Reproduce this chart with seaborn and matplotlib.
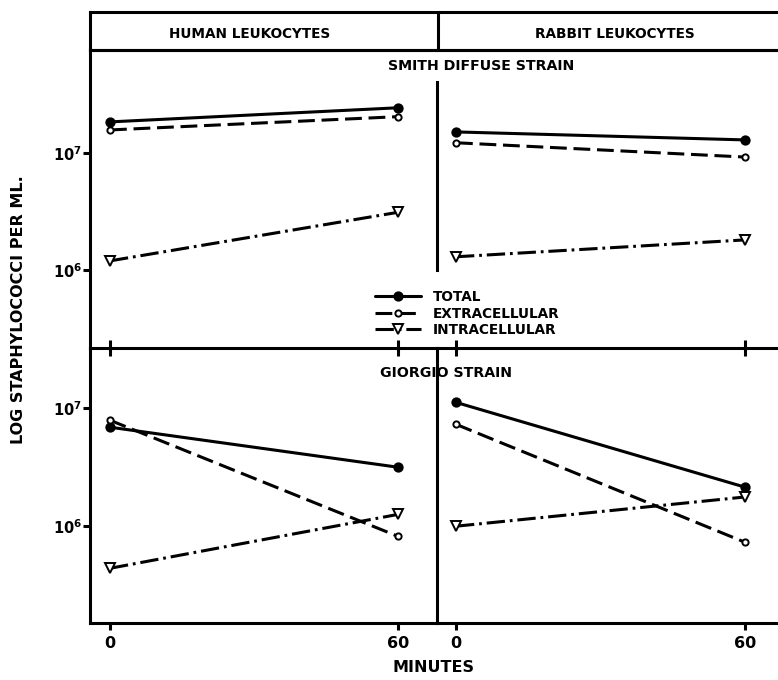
import math
import matplotlib
matplotlib.use("Agg")
import matplotlib.pyplot as plt
from matplotlib.ticker import FixedLocator, FuncFormatter, NullLocator
from matplotlib.lines import Line2D
import seaborn as sns
import pandas as pd

minutes = [0, 60]
fractions = ["TOTAL", "EXTRACELLULAR", "INTRACELLULAR"]
cells = ["HUMAN LEUKOCYTES", "RABBIT LEUKOCYTES"]
strains = ["SMITH DIFFUSE STRAIN", "GIORGIO STRAIN"]

# staphylococci per ml at 0 and 60 min
smith_human = {"TOTAL": [1.84e7, 2.43e7], "EXTRACELLULAR": [1.57e7, 2.04e7], "INTRACELLULAR": [1.19e6, 3.1e6]}
smith_rabbit = {"TOTAL": [1.51e7, 1.29e7], "EXTRACELLULAR": [1.22e7, 9.2e6], "INTRACELLULAR": [1.29e6, 1.8e6]}
giorgio_human = {"TOTAL": [6.9e6, 3.16e6], "EXTRACELLULAR": [7.9e6, 8.2e5], "INTRACELLULAR": [4.4e5, 1.26e6]}
giorgio_rabbit = {"TOTAL": [1.12e7, 2.14e6], "EXTRACELLULAR": [7.3e6, 7.3e5], "INTRACELLULAR": [1.0e6, 1.77e6]}

panels = {
    (strains[0], cells[0]): smith_human,
    (strains[0], cells[1]): smith_rabbit,
    (strains[1], cells[0]): giorgio_human,
    (strains[1], cells[1]): giorgio_rabbit,
}

rows = []
for (strain, cell), series in panels.items():
    for frac, vals in series.items():
        for m, v in zip(minutes, vals):
            rows.append({"strain": strain, "cells": cell, "fraction": frac, "minutes": m, "count": v})
df = pd.DataFrame(rows)

sns.set_style("ticks")
plt.rcParams["font.family"] = ["DejaVu Sans"]
plt.rcParams["font.weight"] = "bold"
for k in ["text.color", "axes.edgecolor", "xtick.color", "ytick.color", "axes.labelcolor"]:
    plt.rcParams[k] = "black"

W, H = 778, 680
fig = plt.figure(figsize=(W / 100, H / 100), dpi=100)


def box(x0, y0, x1, y1):
    return [x0 / W, 1 - y1 / H, (x1 - x0) / W, (y1 - y0) / H]


LW = 2.2
styles = {
    "TOTAL": dict(linestyle="-", marker="o", markersize=6, markerfacecolor="black"),
    "EXTRACELLULAR": dict(linestyle=(0, (5.5, 2.2)), marker="o", markersize=4.5, markerfacecolor="white"),
    "INTRACELLULAR": dict(linestyle=(0, (6, 1.6, 0.9, 1.6)), marker="v", markersize=6.5, markerfacecolor="white"),
}

# header strip
hdr = fig.add_axes(box(90, 12, 778, 50))
hdr.set_xlim(0, 1)
hdr.set_ylim(0, 1)
hdr.set_xticks([])
hdr.set_yticks([])
for s in ["left", "top", "bottom"]:
    hdr.spines[s].set_linewidth(LW)
hdr.spines["right"].set_visible(False)
hdr.axvline((438 - 90) / (778 - 90), color="black", lw=LW)
hdr.text((250 - 90) / 688, 0.42, cells[0], ha="center", va="center", fontsize=9.8, fontweight="bold")
hdr.text((615 - 90) / 688, 0.42, cells[1], ha="center", va="center", fontsize=9.8, fontweight="bold")

positions = {
    (0, 0): box(90, 50, 437, 348),
    (0, 1): box(437, 50, 778, 348),
    (1, 0): box(90, 348, 437, 623),
    (1, 1): box(437, 348, 778, 623),
}
ylims = [(10 ** 5.33, 10 ** 7.88), (10 ** 5.18, 10 ** 7.51)]
xlims = [(-4.17, 68.1), (-3.94, 66.8)]

fmt = FuncFormatter(lambda v, p: r"$\mathbf{10^{%d}}$" % round(math.log10(v)))

for (r, c), pos in positions.items():
    ax = fig.add_axes(pos)
    sub = df[(df["strain"] == strains[r]) & (df["cells"] == cells[c])]
    for frac in fractions:
        sns.lineplot(data=sub[sub["fraction"] == frac], x="minutes", y="count", ax=ax,
                     color="black", linewidth=LW, markeredgecolor="black",
                     markeredgewidth=1.4, label=None, **styles[frac])
    ax.set_yscale("log")
    ax.set_ylim(*ylims[r])
    ax.set_xlim(*xlims[c])
    ax.set_xlabel("")
    ax.set_ylabel("")
    ax.set_facecolor("none")
    for s in ax.spines.values():
        s.set_linewidth(LW)
    ax.spines["right"].set_visible(False)
    if r == 1:
        ax.spines["top"].set_visible(False)
    if c == 1 and r == 0:
        ax.spines["left"].set_bounds(1e6, 10 ** 7.61)
    ax.set_xticks(minutes)
    ax.yaxis.set_minor_locator(NullLocator())
    if c == 0:
        ax.yaxis.set_major_locator(FixedLocator([1e6, 1e7]))
        ax.yaxis.set_major_formatter(fmt)
        ax.tick_params(axis="y", direction="out", length=5, width=LW, labelsize=10.5, pad=1)
    else:
        ax.set_yticks([])
    if r == 0:
        ax.tick_params(axis="x", direction="inout", length=11, width=LW, labelbottom=False)
    else:
        ax.set_xticklabels([str(m) for m in minutes], fontweight="bold")
        ax.tick_params(axis="x", direction="out", length=5, width=LW, labelsize=11.5, pad=4)
    if ax.get_legend():
        ax.get_legend().remove()

fig.text(388 / W, 1 - 66 / H, strains[0], ha="left", va="center", fontsize=10.2, fontweight="bold")
fig.text(380 / W, 1 - 373 / H, strains[1], ha="left", va="center", fontsize=10.2, fontweight="bold")

handles = [Line2D([], [], color="black", linewidth=LW, markeredgecolor="black", markeredgewidth=1.4,
                  **styles[f]) for f in fractions]
fig.legend(handles, fractions, loc="upper left", bbox_to_anchor=(368 / W, 1 - 283 / H),
           frameon=False, handlelength=3.4, handletextpad=0.85, labelspacing=0.2,
           borderpad=0, prop={"weight": "bold", "size": 9.8})

fig.text(19 / W, 1 - 310 / H, "LOG STAPHYLOCOCCI PER ML.", rotation=90, ha="center", va="center",
         fontsize=11.5, fontweight="bold")
fig.text(434 / W, 1 - 668 / H, "MINUTES", ha="center", va="center", fontsize=11.5, fontweight="bold")

fig.savefig("out.png", dpi=100)
